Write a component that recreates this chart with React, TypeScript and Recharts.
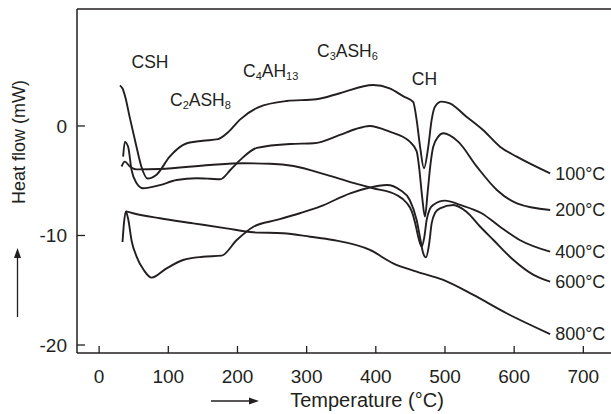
import { LineChart, Line, XAxis, YAxis, ReferenceLine } from "recharts";

// DSC curves: [temperature °C, heat flow mW]
const curve100 = [
  [30, 3.7], [34, 3.4], [38, 2.6], [44, 0.85], [54, -1.9], [61, -3.7], [70, -4.8], [83, -4.45],
  [102, -2.8], [126, -1.6], [150, -1.35], [172, -1.2], [186, -0.6], [204, 0.6], [230, 1.7],
  [271, 2.28], [314, 2.44], [348, 2.99], [396, 3.74], [420, 3.44], [440, 2.7], [454, 2.2],
  [459, 0.55], [464, -1.9], [469.6, -3.86], [475.8, -1.9], [480.7, 0.55], [485.5, 1.76],
  [495, 2.22], [507, 2.07], [531, 0.85], [555, -0.37], [579.5, -1.89], [603.7, -2.8], [652, -4.32],
];
const curve200 = [
  [34.7, -2.8], [37.2, -1.45], [41.9, -1.9], [46.8, -4.0], [54, -5.2], [63.6, -5.69], [87.8, -5.4],
  [112, -4.93], [141, -4.78], [160, -4.82], [175, -4.87], [190, -4.0], [204, -3.1], [228, -2.0],
  [276, -1.64], [310, -1.58], [348, -0.82], [370, -0.3], [391, 0.0], [420, -0.52], [449, -1.43],
  [459, -2.3], [463, -4.0], [467, -6.5], [471, -8.28], [475, -6.0], [479, -3.5], [483, -1.89],
  [490, -1.0], [497.5, -0.67], [519, -1.43], [546, -3.71], [575, -5.84], [604, -7.06], [652, -7.67],
];
const curve400 = [
  [32.4, -3.7], [37.2, -3.26], [44.4, -3.7], [54, -3.96], [88, -3.93], [160, -3.56], [208, -3.41],
  [247, -3.45], [281, -3.65], [329, -4.47], [367, -5.2], [396, -5.69], [430, -6.3], [445, -7.06],
  [452, -7.8], [457, -8.9], [462, -10.3], [466.3, -11.02], [470, -10.2], [473.5, -8.58], [478, -7.6],
  [483, -7.21], [500, -6.82], [522, -7.21], [553, -7.97], [579.5, -9.2], [608, -10.41], [652, -11.48],
];
const curve600 = [
  [33.8, -10.6], [36, -8.8], [38.6, -7.8], [42, -8.5], [47, -10.5], [54, -11.9], [65, -13.2],
  [75.8, -13.85], [97.5, -13.0], [121.5, -12.24], [150, -11.94], [177, -11.84], [199, -10.41],
  [223, -9.2], [257, -8.58], [290, -7.97], [319, -7.37], [363, -6.15], [387, -5.69], [416, -5.39],
  [435, -5.84], [449, -6.76], [459, -8.58], [464, -10.2], [468, -11.5], [472.5, -12.0], [477, -10.8],
  [480.7, -8.9], [486, -7.9], [492.8, -7.52], [512, -7.21], [531, -7.83], [551, -9.2], [570, -10.41],
  [599, -12.24], [628, -13.6], [652, -14.22],
];
const curve800 = [
  [38.6, -7.8], [49, -7.97], [88, -8.43], [136, -8.89], [184, -9.35], [223, -9.71], [266, -9.8],
  [305, -10.11], [338, -10.41], [391.5, -11.32], [425, -12.54], [459, -13.3], [497.5, -14.06],
  [541, -15.43], [589, -17.1], [652, -19.0],
];

const seriesNames = ["100°C", "200°C", "400°C", "600°C", "800°C"];
const seriesData = [curve100, curve200, curve400, curve600, curve800];

const xTicks = [0, 100, 200, 300, 400, 500, 600, 700];
const yTicks = [-20, -10, 0];
const xDomain = [-32, 740];
const yDomain = [-20.73, 10.68];

const INK = "#231f20";
const FONT = "'Liberation Sans', Arial, Helvetica, sans-serif";

function XTick({ x, y, payload }: any) {
  return (
    <g>
      <line x1={x} y1={y} x2={x} y2={y - 7} stroke={INK} strokeWidth={1.3} />
      <text x={x} y={y + 30} textAnchor="middle" fontSize={19} fontFamily={FONT} fill={INK}>
        {payload.value}
      </text>
    </g>
  );
}

function YTick({ x, y, payload }: any) {
  return (
    <g>
      <line x1={x} y1={y} x2={x + 8} y2={y} stroke={INK} strokeWidth={1.3} />
      <text x={x - 10} y={y} dy="0.35em" textAnchor="end" fontSize={19} fontFamily={FONT} fill={INK}>
        {payload.value}
      </text>
    </g>
  );
}

function endLabel(name: string, count: number) {
  return (props: any) => {
    if (props.index !== count - 1) return <g />;
    return (
      <text x={props.x + 5} y={props.y} dy="0.35em" fontSize={18} fontFamily={FONT} fill={INK}>
        {name}
      </text>
    );
  };
}

const sub = { fontSize: 11 };

export default function App() {
  return (
    <div style={{ position: "absolute", left: 0, top: 0, width: 611, height: 414, background: "#fff" }}>
      <LineChart width={611} height={414} margin={{ top: 9, right: 0, left: 17, bottom: 31 }}>
        <XAxis
          type="number"
          dataKey="t"
          domain={xDomain}
          ticks={xTicks}
          allowDataOverflow
          height={30}
          tickSize={0}
          tickMargin={0}
          tickLine={false}
          axisLine={{ stroke: INK, strokeWidth: 1.5 }}
          tick={<XTick />}
        />
        <YAxis
          type="number"
          domain={yDomain}
          ticks={yTicks}
          allowDataOverflow
          width={60}
          tickSize={0}
          tickMargin={0}
          tickLine={false}
          axisLine={{ stroke: INK, strokeWidth: 1.5 }}
          tick={<YTick />}
        />
        <ReferenceLine y={yDomain[1]} stroke={INK} strokeWidth={1.5} />
        {seriesData.map((pts, i) => {
          const data = pts.map(([t, v]) => ({ t, v }));
          return (
            <Line
              key={seriesNames[i]}
              data={data}
              dataKey="v"
              type="monotone"
              stroke={INK}
              strokeWidth={1.9}
              dot={false}
              isAnimationActive={false}
              label={endLabel(seriesNames[i], data.length)}
            />
          );
        })}
      </LineChart>
      <svg
        width={611}
        height={414}
        style={{ position: "absolute", left: 0, top: 0, pointerEvents: "none" }}
        fontFamily={FONT}
        fill={INK}
      >
        <text x={150} y={68} textAnchor="middle" fontSize={17.5}>CSH</text>
        <text x={170} y={106} fontSize={17.5}>
          C<tspan {...sub} dy={3}>2</tspan><tspan dy={-3}>ASH</tspan><tspan {...sub} dy={3}>8</tspan>
        </text>
        <text x={243} y={77} fontSize={17.5}>
          C<tspan {...sub} dy={3}>4</tspan><tspan dy={-3}>AH</tspan><tspan {...sub} dy={3}>13</tspan>
        </text>
        <text x={317} y={56.5} fontSize={17.5}>
          C<tspan {...sub} dy={3}>3</tspan><tspan dy={-3}>ASH</tspan><tspan {...sub} dy={3}>6</tspan>
        </text>
        <text x={424.5} y={85} textAnchor="middle" fontSize={17.5}>CH</text>

        <text x={0} y={0} transform="translate(25 142) rotate(-90)" textAnchor="middle" fontSize={18}>
          Heat flow (mW)
        </text>
        <line x1={17.5} y1={317} x2={17.5} y2={256} stroke={INK} strokeWidth={1.3} />
        <polygon points="17.5,248 14,258 21,258" />

        <text x={367} y={407} textAnchor="middle" fontSize={20}>Temperature (°C)</text>
        <line x1={211} y1={401} x2={250} y2={401} stroke={INK} strokeWidth={1.3} />
        <polygon points="259,401 249,397.5 249,404.5" />
      </svg>
    </div>
  );
}
